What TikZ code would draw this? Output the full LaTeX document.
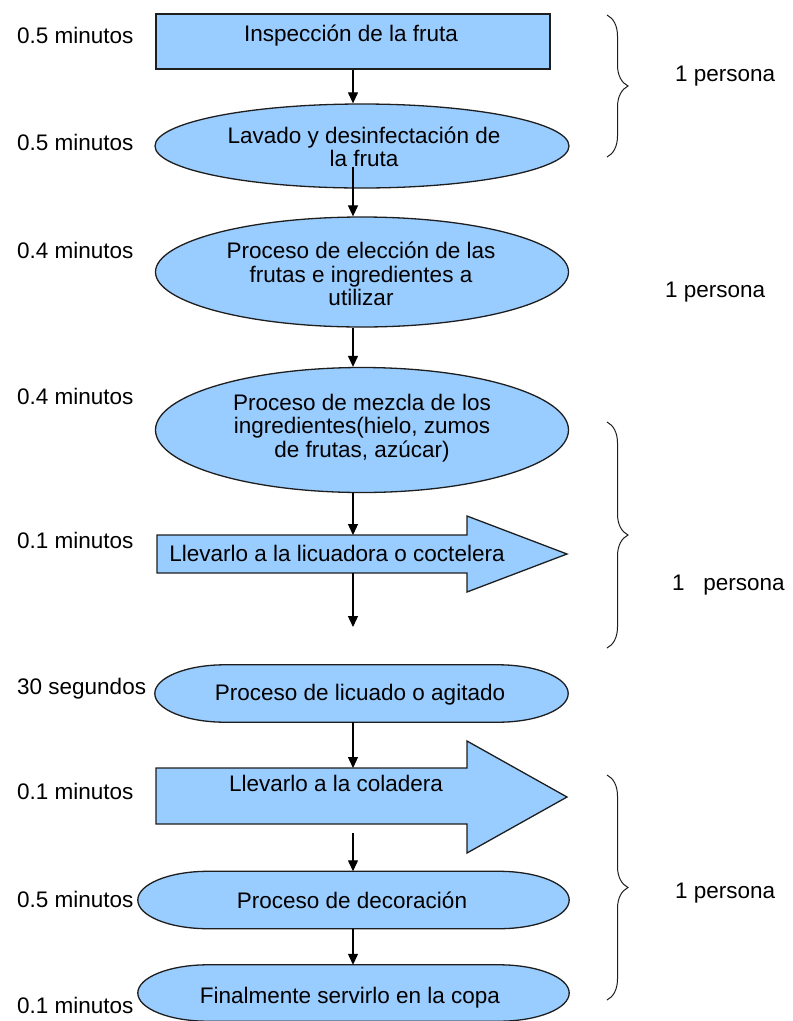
\documentclass[tikz,border=0pt]{standalone}
\usepackage{fontspec}
\setmainfont{Liberation Sans}
\usetikzlibrary{arrows.meta, positioning, calc, shapes.geometric, decorations.pathreplacing}
\definecolor{procblue}{RGB}{153,204,255}
\definecolor{edgegray}{RGB}{30,30,30}
% flattened oval drawn round an empty node
\newcommand{\flatoval}[2]{%
  \draw[procline] (#1.west)
    .. controls ($(#1.west)!0.552!(#1.north west)$) and ($(#1.north west)+({0.448*#2},0)$) .. ($(#1.north west)+(#2,0)$)
    -- ($(#1.north east)-(#2,0)$)
    .. controls ($(#1.north east)-({0.448*#2},0)$) and ($(#1.east)!0.552!(#1.north east)$) .. (#1.east)
    .. controls ($(#1.east)!0.552!(#1.south east)$) and ($(#1.south east)-({0.448*#2},0)$) .. ($(#1.south east)-(#2,0)$)
    -- ($(#1.south west)+(#2,0)$)
    .. controls ($(#1.south west)+({0.448*#2},0)$) and ($(#1.west)!0.552!(#1.south west)$) .. (#1.west) -- cycle;}

\begin{document}
\begin{tikzpicture}[x=1pt, y=-1pt, >={Triangle[width=10pt,length=11pt]},
  procline/.style={draw=edgegray, line width=1.3pt, fill=procblue},
  proc/.style={procline, ellipse, inner sep=0pt},
  slot/.style={rectangle, inner sep=0pt},
  box/.style={procline, rectangle, inner sep=0pt},
  bigarrow/.style={procline, line join=miter},
  txt/.style={font=\fontsize{22.5}{23.5}\selectfont, align=center, inner sep=0pt},
  time/.style={font=\fontsize{22.5}{23.5}\selectfont, anchor=base west, inner sep=0pt},
  flow/.style={->, line width=1.2pt},
  grp/.style={decorate, decoration={brace, amplitude=21pt}, line width=1pt, draw=edgegray}]
  \useasboundingbox (0,0) rectangle (793,1021);

  % process shapes
  \node[box, minimum width=394pt, minimum height=55pt] (insp) at (353,41.5) {};
  \node[txt, anchor=base] (inspT) at (351,41) {Inspección de la fruta};
  \node[proc, minimum width=414pt, minimum height=84pt] (lav) at (362,146) {};
  \node[txt] (lavT) at (364,147) {Lavado y desinfectación de\\la fruta};
  \node[proc, minimum width=413pt, minimum height=110pt] (elec) at (362,272) {};
  \node[txt] (elecT) at (361,274) {Proceso de elección de las\\frutas e ingredientes a\\utilizar};
  \node[proc, minimum width=413pt, minimum height=125pt] (mezcla) at (362,430) {};
  \node[txt] (mezclaT) at (362,428) {Proceso de mezcla de los\\ingredientes(hielo, zumos\\de frutas, azúcar)};

  \draw[bigarrow] (157,535) -- (467,535) -- (467,516) -- (567,554) -- (467,592) -- (467,573) -- (157,573) -- cycle;
  \node[txt, anchor=base] (licT) at (337,561) {Llevarlo a la licuadora o coctelera};
  \coordinate (licTop) at (353,535);
  \coordinate (licBot) at (353,573);
  \coordinate (licEnd) at (353,627);

  \node[slot, minimum width=413pt, minimum height=57pt] (licuado) at (361.5,693.5) {};
  \flatoval{licuado}{70}
  \node[txt, anchor=base] (licuadoT) at (360,700) {Proceso de licuado o agitado};

  \draw[bigarrow] (156,768) -- (467,768) -- (467,741) -- (567,797) -- (467,853) -- (467,824) -- (156,824) -- cycle;
  \node[txt, anchor=base] (colT) at (336,791) {Llevarlo a la coladera};
  \coordinate (colTop) at (353,768);
  \coordinate (colStart) at (353,833);

  \node[slot, minimum width=431pt, minimum height=57pt] (deco) at (353.5,900) {};
  \flatoval{deco}{70}
  \node[txt, anchor=base] (decoT) at (352,908) {Proceso de decoración};
  \node[slot, minimum width=431pt, minimum height=56pt] (copa) at (353.5,993) {};
  \flatoval{copa}{70}
  \node[txt, anchor=base] (copaT) at (350,1003) {Finalmente servirlo en la copa};

  % connectors
  \draw[flow] (insp.south) -- (insp.south |- lav.north);
  \draw[flow] (lavT.south -| insp.south) -- (elec.north -| insp.south);
  \draw[flow] (elec.south -| insp.south) -- (mezcla.north -| insp.south);
  \draw[flow] (mezcla.south -| insp.south) -- (licTop);
  \draw[flow] (licBot) -- (licEnd);
  \draw[flow] (licuado.south -| insp.south) -- (colTop);
  \draw[flow] (colStart) -- (deco.north -| insp.south);
  \draw[flow] (deco.south -| insp.south) -- (copa.north -| insp.south);

  % times
  \node[time] (t1) at (17,43) {0.5 minutos};
  \node[time] (t2) at (17,150) {0.5 minutos};
  \node[time] (t3) at (17,258) {0.4 minutos};
  \node[time] (t4) at (17,404) {0.4 minutos};
  \node[time] (t5) at (17,548) {0.1 minutos};
  \node[time] (t6) at (17,694) {30 segundos};
  \node[time] (t7) at (17,799) {0.1 minutos};
  \node[time] (t8) at (17,907) {0.5 minutos};
  \node[time] (t9) at (17,1013) {0.1 minutos};

  % staff groups
  \draw[grp] (607,15) -- (607,157);
  \draw[grp] (607,422) -- (607,648);
  \draw[grp] (607,775) -- (607,1000);
  \node[time] (p1) at (675,81) {1 persona};
  \node[time] (p2) at (665,297) {1 persona};
  \node[time] (p3) at (672,590) {1\ \ \ persona};
  \node[time] (p4) at (675,898) {1 persona};
\end{tikzpicture}
\end{document}
